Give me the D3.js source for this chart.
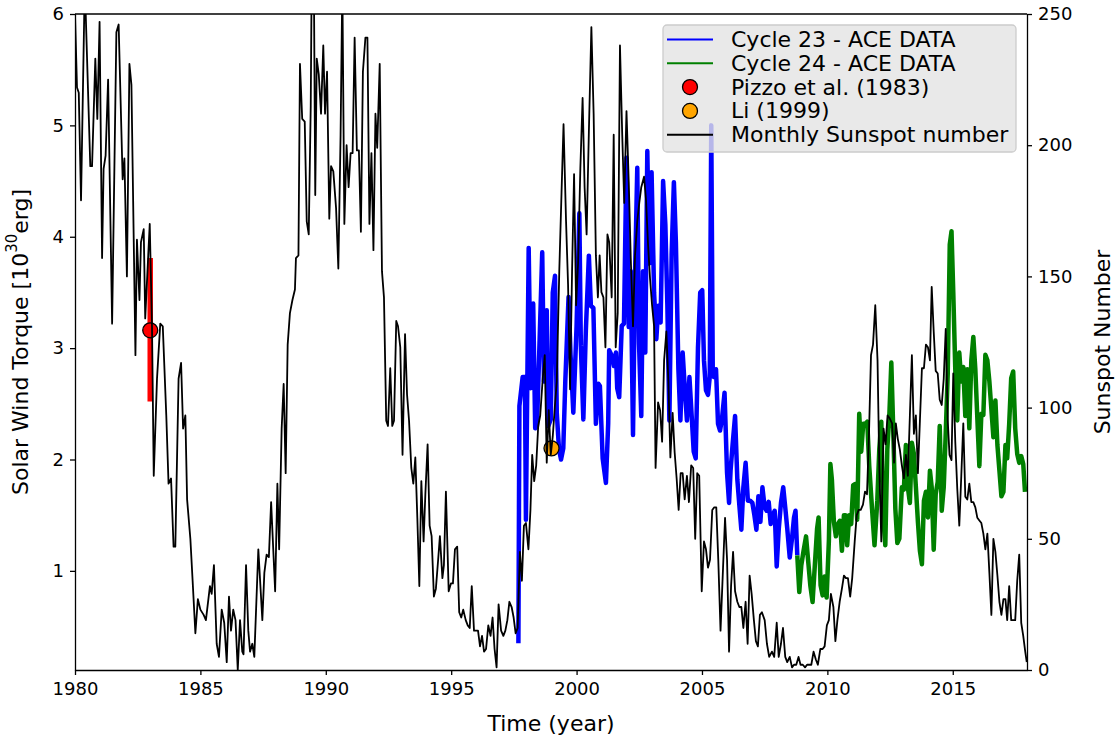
<!DOCTYPE html>
<html>
  <head>
    <meta charset='utf-8' />
    <title>Solar wind torque and sunspot number</title>
    <script src="https://d3js.org/d3.v7.min.js"></script>
    <style>
body {
  margin: 0;
  background: #fff;
  font-family: "DejaVu Sans", sans-serif;
}
.axis {
  font-size: 18px;
  font-family: "DejaVu Sans", sans-serif;
}
.axis path,
.axis line {
  stroke: black;
  stroke-width: 1.3px;
}
.label {
  font-size: 22px;
}
.legend text {
  font-size: 22px;
}
    </style>
  </head>
  <body>
    <div id="graphic"></div>
    <script>
      // monthly sunspot number, [year, count]
      const sunspot = [
        [1980.00,250],[1980.08,222],[1980.15,220],[1980.24,179],[1980.39,262],[1980.61,192],[1980.68,192],[1980.81,233],
        [1980.89,210],[1980.98,247],[1981.08,157],[1981.14,191],[1981.22,196],[1981.32,225],[1981.48,132],[1981.65,243],
        [1981.74,246],[1981.90,187],[1981.97,195],[1982.07,150],[1982.17,231],[1982.25,223],[1982.41,120],[1982.47,164],
        [1982.57,141],[1982.63,163],[1982.74,168],[1982.80,134],[1982.98,170],[1983.07,131],[1983.14,74],[1983.27,111],
        [1983.40,132],[1983.50,131],[1983.64,97],[1983.73,71],[1983.83,73],[1983.93,47],[1984.00,47],[1984.13,111],
        [1984.23,117],[1984.31,92],[1984.40,97],[1984.47,65],[1984.60,50],[1984.69,34],[1984.80,14],[1984.90,27],
        [1985.00,23],[1985.13,21],[1985.22,19],[1985.38,32],[1985.45,29],[1985.54,40],[1985.65,10],[1985.74,5],
        [1985.85,23],[1985.95,18],[1986.05,3],[1986.14,28],[1986.22,15],[1986.31,23],[1986.40,19],[1986.49,0],
        [1986.58,19],[1986.67,7],[1986.72,6],[1986.82,40],[1986.91,15],[1986.98,7],[1987.07,10],[1987.15,5],
        [1987.31,46],[1987.47,19],[1987.55,37],[1987.64,44],[1987.73,43],[1987.82,64],[1987.98,30],[1988.07,71],
        [1988.14,46],[1988.24,92],[1988.32,109],[1988.40,75],[1988.48,124],[1988.57,136],[1988.67,141],[1988.77,145],
        [1988.81,157],[1988.91,158],[1988.97,231],[1989.06,210],[1989.16,209],[1989.24,171],[1989.32,166],[1989.40,215],
        [1989.45,280],[1989.52,270],[1989.58,181],[1989.64,233],[1989.72,227],[1989.81,212],[1989.90,238],[1989.97,212],
        [1990.05,228],[1990.14,172],[1990.21,192],[1990.30,190],[1990.41,176],[1990.50,153],[1990.59,204],[1990.66,262],
        [1990.74,170],[1990.83,200],[1990.91,184],[1990.99,197],[1991.07,197],[1991.15,241],[1991.24,198],[1991.32,198],
        [1991.40,167],[1991.48,228],[1991.58,241],[1991.66,241],[1991.74,170],[1991.82,197],[1991.90,160],[1991.98,212],
        [1992.05,199],[1992.15,231],[1992.24,152],[1992.32,142],[1992.41,95],[1992.48,93],[1992.57,115],[1992.65,93],
        [1992.72,95],[1992.81,133],[1992.88,131],[1992.97,123],[1993.06,82],[1993.16,128],[1993.24,105],[1993.32,95],
        [1993.41,77],[1993.49,71],[1993.57,81],[1993.65,58],[1993.73,32],[1993.81,72],[1993.90,49],[1993.97,67],
        [1994.06,86],[1994.14,55],[1994.22,51],[1994.31,28],[1994.39,31],[1994.48,42],[1994.55,51],[1994.65,35],
        [1994.71,40],[1994.79,68],[1994.90,30],[1994.99,33],[1995.07,33],[1995.15,46],[1995.24,47],[1995.32,22],
        [1995.40,20],[1995.48,23],[1995.58,19],[1995.66,17],[1995.74,16],[1995.82,32],[1995.91,15],[1995.99,15],
        [1996.07,15],[1996.15,9],[1996.23,13],[1996.31,7],[1996.39,8],[1996.48,17],[1996.57,13],[1996.65,20],
        [1996.73,8],[1996.81,1],[1996.89,25],[1996.99,15],[1997.08,13],[1997.16,15],[1997.24,19],[1997.32,26],
        [1997.41,24],[1997.49,20],[1997.57,14],[1997.65,16],[1997.74,45],[1997.82,34],[1997.90,55],[1997.98,56],
        [1998.08,46],[1998.16,61],[1998.23,82],[1998.31,72],[1998.39,78],[1998.47,93],[1998.55,97],[1998.65,111],
        [1998.73,120],[1998.81,79],[1998.89,99],[1998.97,82],[1999.05,89],[1999.13,100],[1999.21,110],[1999.31,152],
        [1999.40,182],[1999.48,208],[1999.58,171],[1999.66,147],[1999.74,107],[1999.82,152],[1999.90,189],[1999.98,139],
        [2000.06,155],[2000.15,191],[2000.24,218],[2000.32,184],[2000.40,166],[2000.49,205],[2000.59,245],[2000.68,212],
        [2000.77,158],[2000.85,142],[2000.92,158],[2000.99,144],[2001.07,142],[2001.15,123],[2001.23,166],[2001.30,163],
        [2001.40,142],[2001.48,204],[2001.56,123],[2001.64,136],[2001.73,238],[2001.82,204],[2001.90,178],[2001.99,213],
        [2002.08,186],[2002.16,157],[2002.25,131],[2002.33,158],[2002.42,171],[2002.50,178],[2002.58,184],[2002.69,188],
        [2002.77,179],[2002.85,162],[2002.93,149],[2003.01,139],[2003.09,131],[2003.15,77],[2003.25,102],[2003.33,99],
        [2003.41,87],[2003.49,118],[2003.58,129],[2003.66,110],[2003.74,81],[2003.83,98],[2003.91,83],[2003.99,73],
        [2004.07,61],[2004.15,75],[2004.23,75],[2004.31,65],[2004.40,74],[2004.48,64],[2004.57,78],[2004.65,77],
        [2004.73,50],[2004.81,75],[2004.89,74],[2004.99,30],[2005.08,49],[2005.16,46],[2005.24,39],[2005.32,42],
        [2005.41,61],[2005.49,62],[2005.57,62],[2005.65,42],[2005.74,15],[2005.84,39],[2005.92,58],[2006.00,42],
        [2006.08,7],[2006.16,32],[2006.24,45],[2006.32,30],[2006.41,26],[2006.49,24],[2006.57,24],[2006.65,16],
        [2006.74,26],[2006.82,10],[2006.90,36],[2006.98,29],[2007.07,19],[2007.15,11],[2007.23,9],[2007.31,21],
        [2007.39,22],[2007.50,19],[2007.59,10],[2007.68,5],[2007.79,7],[2007.88,5],[2007.98,18],[2008.06,5],
        [2008.15,10],[2008.23,16],[2008.32,5],[2008.40,3],[2008.50,5],[2008.59,1],[2008.67,2],[2008.76,2],
        [2008.85,5],[2008.93,2],[2009.02,2],[2009.11,1],[2009.19,2],[2009.27,2],[2009.36,2],[2009.45,7],
        [2009.54,4],[2009.62,2],[2009.72,8],[2009.81,8],[2009.89,9],[2009.98,17],[2010.06,19],[2010.14,29],
        [2010.24,24],[2010.32,11],[2010.40,19],[2010.49,26],[2010.58,31],[2010.66,36],[2010.74,35],[2010.82,35],
        [2010.91,28],[2010.99,35],[2011.09,49],[2011.17,59],[2011.25,61],[2011.33,61],[2011.42,63],[2011.50,68],
        [2011.58,67],[2011.66,90],[2011.74,120],[2011.82,124],[2011.91,139],[2012.00,118],[2012.07,78],[2012.15,49],
        [2012.24,92],[2012.32,86],[2012.40,97],[2012.48,96],[2012.58,94],[2012.66,79],[2012.73,94],[2012.81,88],
        [2012.89,84],[2012.97,78],[2013.05,73],[2013.13,82],[2013.21,74],[2013.29,97],[2013.37,120],[2013.45,90],
        [2013.53,97],[2013.61,75],[2013.69,95],[2013.77,115],[2013.85,115],[2013.93,124],[2014.01,123],[2014.09,118],
        [2014.16,146],[2014.24,129],[2014.32,114],[2014.40,113],[2014.48,103],[2014.56,101],[2014.64,111],[2014.72,130],
        [2014.80,95],[2014.87,82],[2014.95,80],[2015.02,113],[2015.10,87],[2015.18,69],[2015.26,55],[2015.34,74],
        [2015.42,94],[2015.50,66],[2015.58,65],[2015.66,71],[2015.74,64],[2015.82,64],[2015.90,62],[2015.98,58],
        [2016.06,57],[2016.14,56],[2016.22,52],[2016.30,46],[2016.38,52],[2016.46,37],[2016.54,21],[2016.62,50],
        [2016.70,45],[2016.78,36],[2016.86,26],[2016.94,21],[2017.02,27],[2017.10,27],[2017.17,19],[2017.25,32],
        [2017.33,19],[2017.41,19],[2017.49,19],[2017.57,34],[2017.65,44],[2017.73,18],[2017.81,13],[2017.89,7],
        [2017.95,3]
      ];

      // solar wind torque from ACE, [year, 10^30 erg]
      const cycle23 = [
        [1997.68,0.35],[1997.72,2.48],[1997.85,2.74],[1997.94,2.74],[1997.98,1.46],[1998.09,3.90],[1998.17,2.64],
        [1998.27,3.40],[1998.35,2.28],[1998.42,2.30],[1998.51,2.95],[1998.63,3.86],[1998.70,2.70],[1998.81,3.34],
        [1998.87,2.30],[1998.97,2.36],[1999.05,3.50],[1999.14,3.65],[1999.21,2.42],[1999.30,2.09],[1999.38,2.00],
        [1999.47,2.10],[1999.55,2.70],[1999.68,3.46],[1999.76,2.94],[1999.87,2.42],[2000.00,3.20],[2000.11,4.21],
        [2000.17,3.02],[2000.27,2.36],[2000.37,3.16],[2000.49,3.83],[2000.57,3.38],[2000.67,3.36],[2000.77,2.32],
        [2000.87,2.68],[2000.93,2.66],[2001.04,2.01],[2001.17,1.79],[2001.26,2.32],[2001.30,2.98],[2001.41,2.93],
        [2001.49,2.84],[2001.57,2.96],[2001.62,2.64],[2001.70,2.56],[2001.80,3.20],[2001.89,3.22],[2001.99,4.71],
        [2002.08,3.19],[2002.16,3.69],[2002.25,2.22],[2002.33,3.65],[2002.42,4.62],[2002.49,3.04],[2002.58,2.39],
        [2002.65,3.69],[2002.74,2.96],[2002.82,4.77],[2002.90,3.76],[2002.99,4.58],[2003.09,3.50],[2003.18,3.08],
        [2003.26,3.38],[2003.35,3.23],[2003.45,4.50],[2003.54,4.11],[2003.62,3.38],[2003.70,2.35],[2003.79,3.84],
        [2003.88,4.49],[2003.96,3.95],[2004.06,2.81],[2004.14,2.35],[2004.23,2.96],[2004.32,2.62],[2004.40,2.35],
        [2004.50,2.74],[2004.59,2.39],[2004.67,2.07],[2004.75,2.01],[2004.84,3.00],[2004.93,3.50],[2005.01,3.52],
        [2005.08,2.89],[2005.16,2.62],[2005.24,2.58],[2005.31,2.74],[2005.37,5.00],[2005.43,2.80],[2005.48,2.74],
        [2005.56,2.81],[2005.64,2.32],[2005.72,2.26],[2005.80,2.37],[2005.90,2.60],[2006.00,1.88],[2006.08,1.61],
        [2006.14,1.90],[2006.22,2.13],[2006.32,2.39],[2006.41,1.82],[2006.49,1.59],[2006.57,1.37],[2006.65,1.75],
        [2006.74,1.97],[2006.83,1.63],[2006.92,1.63],[2007.01,1.61],[2007.09,1.50],[2007.17,1.37],[2007.25,1.67],
        [2007.33,1.44],[2007.41,1.75],[2007.50,1.57],[2007.58,1.54],[2007.66,1.62],[2007.74,1.42],[2007.82,1.50],
        [2007.90,1.54],[2007.98,1.04],[2008.06,1.37],[2008.15,1.61],[2008.24,1.75],[2008.32,1.57],[2008.40,1.38],
        [2008.50,1.12],[2008.59,1.29],[2008.67,1.48],[2008.73,1.54],[2008.80,1.14]
      ];

      const cycle24 = [
        [2008.80,1.14],[2008.88,0.81],[2008.96,1.05],[2009.05,1.18],[2009.15,1.31],[2009.23,1.10],[2009.32,0.87],
        [2009.41,0.72],[2009.50,1.05],[2009.59,1.38],[2009.65,1.48],[2009.73,0.87],[2009.81,0.78],[2009.89,0.95],
        [2009.97,0.76],[2010.06,1.27],[2010.12,1.96],[2010.18,1.82],[2010.26,1.44],[2010.34,1.31],[2010.42,1.42],
        [2010.50,1.45],[2010.58,1.18],[2010.66,1.50],[2010.72,1.50],[2010.79,1.23],[2010.87,1.50],[2010.95,1.42],
        [2011.03,1.77],[2011.11,1.78],[2011.19,1.46],[2011.27,2.41],[2011.35,2.07],[2011.43,2.32],[2011.51,2.32],
        [2011.59,2.34],[2011.67,1.94],[2011.78,1.56],[2011.88,1.23],[2011.99,1.63],[2012.07,2.09],[2012.15,2.34],
        [2012.23,1.48],[2012.31,1.23],[2012.39,2.09],[2012.47,2.39],[2012.55,2.87],[2012.63,2.24],[2012.71,1.56],
        [2012.79,1.25],[2012.87,1.29],[2012.97,1.75],[2013.05,1.73],[2013.13,2.13],[2013.21,1.75],[2013.29,1.61],
        [2013.37,2.15],[2013.45,2.05],[2013.53,1.75],[2013.61,1.44],[2013.69,1.18],[2013.77,1.06],[2013.85,1.63],
        [2013.93,1.71],[2014.01,1.48],[2014.09,1.90],[2014.16,1.75],[2014.24,1.19],[2014.32,1.69],[2014.40,1.80],
        [2014.48,2.30],[2014.56,1.54],[2014.64,1.75],[2014.72,2.24],[2014.80,2.77],[2014.88,3.93],[2014.95,4.05],
        [2015.02,3.50],[2015.10,2.81],[2015.18,2.35],[2015.26,2.96],[2015.34,2.70],[2015.42,2.83],[2015.50,2.39],
        [2015.58,2.81],[2015.66,2.28],[2015.74,2.89],[2015.82,3.10],[2015.90,2.81],[2015.98,2.37],[2016.06,1.94],
        [2016.14,2.41],[2016.22,2.40],[2016.30,2.94],[2016.38,2.89],[2016.46,2.70],[2016.54,2.45],[2016.62,2.20],
        [2016.70,2.53],[2016.78,2.13],[2016.86,1.90],[2016.94,1.67],[2017.02,1.71],[2017.10,2.13],[2017.17,2.01],
        [2017.25,2.32],[2017.33,2.73],[2017.41,2.79],[2017.49,2.28],[2017.57,2.05],[2017.65,1.97],[2017.73,2.03],
        [2017.81,1.96],[2017.88,1.71]
      ];

      // earlier estimates: year, torque, error bar low / high
      const pizzo = {year: 1983.0, torque: 3.16, low: 2.52, high: 3.81};
      const li = {year: 1999.0, torque: 2.1};

      const yearTicks = [1980, 1985, 1990, 1995, 2000, 2005, 2010, 2015];
      const torqueTicks = [1, 2, 3, 4, 5, 6];
      const sunspotTicks = [0, 50, 100, 150, 200, 250];

      const legendItems = [
        {label: "Cycle 23 - ACE DATA", type: "line", color: "#0000ff"},
        {label: "Cycle 24 - ACE DATA", type: "line", color: "#008000"},
        {label: "Pizzo et al. (1983)", type: "dot", color: "#ff0000"},
        {label: "Li (1999)", type: "dot", color: "#ffa500"},
        {label: "Monthly Sunspot number", type: "line", color: "#000000"}
      ];

      const margin = {top: 14, right: 89, bottom: 70, left: 75};
      const width = 1116 - margin.left - margin.right;
      const height = 740 - margin.top - margin.bottom;

      const svg = d3.select("#graphic").append("svg")
        .attr("width", width + margin.left + margin.right)
        .attr("height", height + margin.top + margin.bottom)
        .append("g")
        .attr("transform", "translate(" + margin.left + "," + margin.top + ")");

      // scales
      const x = d3.scaleLinear().domain([1980, 2017.96]).range([0, width]);
      const yT = d3.scaleLinear().domain([0.11, 6]).range([height, 0]);
      const yS = d3.scaleLinear().domain([0, 250]).range([height, 0]);

      // clip so the lines stay inside the frame
      svg.append("clipPath")
        .attr("id", "clip")
        .append("rect")
        .attr("width", width)
        .attr("height", height);

      const body = svg.append("g").attr("clip-path", "url(#clip)");

      const torqueLine = d3.line()
        .x((d) => x(d[0]))
        .y((d) => yT(d[1]));

      body.append("path")
        .datum(cycle23)
        .attr("fill", "none")
        .attr("stroke", "#0000ff")
        .attr("stroke-width", 4.5)
        .attr("stroke-linejoin", "round")
        .attr("d", torqueLine);

      body.append("path")
        .datum(cycle24)
        .attr("fill", "none")
        .attr("stroke", "#008000")
        .attr("stroke-width", 4.5)
        .attr("stroke-linejoin", "round")
        .attr("d", torqueLine);

      // pizzo error bar + points
      body.append("line")
        .attr("x1", x(pizzo.year))
        .attr("x2", x(pizzo.year))
        .attr("y1", yT(pizzo.low))
        .attr("y2", yT(pizzo.high))
        .attr("stroke", "#ff0000")
        .attr("stroke-width", 5.5);

      body.selectAll(".pt")
        .data([[pizzo.year, pizzo.torque, "#ff0000"], [li.year, li.torque, "#ffa500"]])
        .enter()
        .append("circle")
        .attr("cx", (d) => x(d[0]))
        .attr("cy", (d) => yT(d[1]))
        .attr("r", 7.5)
        .attr("fill", (d) => d[2])
        .attr("stroke", "black")
        .attr("stroke-width", 1.3);

      // sunspot number on the right axis
      body.append("path")
        .datum(sunspot)
        .attr("fill", "none")
        .attr("stroke", "black")
        .attr("stroke-width", 1.8)
        .attr("stroke-linejoin", "round")
        .attr("d", d3.line().x((d) => x(d[0])).y((d) => yS(d[1])));

      // axes
      svg.append("g")
        .attr("class", "axis")
        .attr("transform", "translate(0," + height + ")")
        .call(d3.axisBottom(x).tickValues(yearTicks).tickFormat(d3.format("d"))
          .tickSize(5).tickSizeOuter(0).tickPadding(7));

      svg.append("g")
        .attr("class", "axis")
        .call(d3.axisLeft(yT).tickValues(torqueTicks).tickFormat(d3.format("d"))
          .tickSize(5).tickSizeOuter(0).tickPadding(6));

      svg.append("g")
        .attr("class", "axis")
        .attr("transform", "translate(" + width + ",0)")
        .call(d3.axisRight(yS).tickValues(sunspotTicks)
          .tickSize(5).tickSizeOuter(0).tickPadding(6));

      svg.append("line")
        .attr("x1", 0).attr("x2", width)
        .attr("y1", 0).attr("y2", 0)
        .attr("stroke", "black")
        .attr("stroke-width", 1.3);

      // axis titles
      svg.append("text")
        .attr("class", "label")
        .attr("x", width / 2)
        .attr("y", height + 53)
        .attr("text-anchor", "middle")
        .attr("dominant-baseline", "central")
        .text("Time (year)");

      const leftLabel = svg.append("text")
        .attr("class", "label")
        .attr("transform", "translate(-55," + height / 2 + ") rotate(-90)")
        .attr("text-anchor", "middle")
        .attr("dominant-baseline", "central");
      leftLabel.append("tspan").text("Solar Wind Torque [10");
      leftLabel.append("tspan").attr("dy", -8).attr("font-size", 15).text("30");
      leftLabel.append("tspan").attr("dy", 8).text("erg]");

      svg.append("text")
        .attr("class", "label")
        .attr("transform", "translate(" + (width + 75) + "," + height / 2 + ") rotate(-90)")
        .attr("text-anchor", "middle")
        .attr("dominant-baseline", "central")
        .text("Sunspot Number");

      // legend
      const legend = svg.append("g")
        .attr("class", "legend")
        .attr("transform", "translate(" + (width - 364) + ",11)");

      legend.append("rect")
        .attr("width", 353)
        .attr("height", 127)
        .attr("rx", 4)
        .attr("fill", "#e3e3e3")
        .attr("fill-opacity", 0.8)
        .attr("stroke", "#cccccc")
        .attr("stroke-width", 1.3);

      const rows = legend.selectAll(".row")
        .data(legendItems)
        .enter()
        .append("g")
        .attr("transform", (d, i) => "translate(0," + (14.5 + i * 23.8) + ")");

      rows.filter((d) => d.type === "line")
        .append("line")
        .attr("x1", 4).attr("x2", 50)
        .attr("stroke", (d) => d.color)
        .attr("stroke-width", 2);

      rows.filter((d) => d.type === "dot")
        .append("circle")
        .attr("cx", 27)
        .attr("r", 7.5)
        .attr("fill", (d) => d.color)
        .attr("stroke", "black")
        .attr("stroke-width", 1.3);

      rows.append("text")
        .attr("x", 68)
        .attr("dominant-baseline", "central")
        .text((d) => d.label);
    </script>
  </body>
</html>
